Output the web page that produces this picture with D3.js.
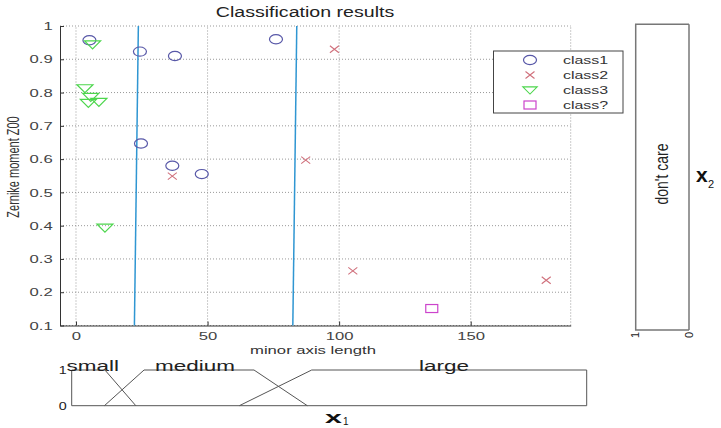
<!DOCTYPE html>
<html>
<head>
<meta charset="utf-8">
<script src="https://cdn.jsdelivr.net/npm/d3@7"></script>
<style>
  body { margin: 0; background: #fff; }
  text { font-family: "Liberation Sans", Arial, sans-serif; }
</style>
</head>
<body>
<div id="chart"></div>
<script>
// data
var class1 = [[5.1, 0.957], [24.3, 0.923], [37.6, 0.910], [76.0, 0.960], [24.7, 0.647], [36.6, 0.580], [47.8, 0.555]];
var class2 = [[98.2, 0.930], [87.3, 0.597], [36.6, 0.549], [105.2, 0.264], [178.7, 0.236]];
var class3 = [[6.3, 0.945], [3.4, 0.813], [5.6, 0.787], [4.7, 0.769], [8.7, 0.772], [11.0, 0.394]];
var classQ = [[135.2, 0.151]];
var boundaries = [[[23.7, 1], [22.2, 0.1]], [[83.9, 1], [82.4, 0.1]]];
var xTicks = [0, 50, 100, 150];
var yTicks = [0.1, 0.2, 0.3, 0.4, 0.5, 0.6, 0.7, 0.8, 0.9, 1];
var legendNames = ["class1", "class2", "class3", "class?"];

// membership functions for x1 (x1, mu) and x2 (x2, mu)
var mfSmall = [[0, 1], [12.9, 1], [24.9, 0]];
var mfMedium = [[12.7, 0], [28.1, 1], [70.8, 1], [91.5, 0]];
var mfLarge = [[65.1, 0], [93.2, 1], [200, 1], [200, 0]];
var mfLabels = [["small", 8.2], ["medium", 47.9], ["large", 144.6]];
var mfDontCare = [[0, 0], [0, 1], [1, 1], [1, 0]];

var W = 721, H = 428;
var sx = 1.45; // the picture is stretched sideways

var svg = d3.select("#chart").append("svg")
    .attr("width", W)
    .attr("height", H);

svg.append("rect").attr("width", W).attr("height", H).attr("fill", "#fff");

var x = d3.scaleLinear().domain([-6.08, 188]).range([60, 570.7]);
var y = d3.scaleLinear().domain([0.1, 1]).range([325.5, 26]);

// grid
var grid = svg.append("g").attr("stroke", "#999").attr("stroke-dasharray", "1,2");
grid.selectAll("vline")
    .data(xTicks.concat([188]))
    .enter().append("line")
        .attr("x1", function(d) { return x(d); })
        .attr("x2", function(d) { return x(d); })
        .attr("y1", y(0.1))
        .attr("y2", y(1));
grid.selectAll("hline")
    .data(yTicks)
    .enter().append("line")
        .attr("x1", x.range()[0])
        .attr("x2", x.range()[1])
        .attr("y1", function(d) { return y(d); })
        .attr("y2", function(d) { return y(d); });

// axes
var xAxis = svg.append("g")
    .attr("transform", "translate(0," + y(0.1) + ")")
    .call(d3.axisBottom(x).tickValues(xTicks).tickSizeInner(-4).tickSizeOuter(0).tickPadding(6));
var yAxis = svg.append("g")
    .attr("transform", "translate(" + x(-6.08) + ",0)")
    .call(d3.axisLeft(y).tickValues(yTicks).tickFormat(d3.format("~g")).tickSizeInner(-4).tickSizeOuter(0).tickPadding(5));

[xAxis, yAxis].forEach(function(a) {
    a.select(".domain").attr("stroke", "#333");
    a.selectAll(".tick line").attr("stroke", "#333");
    a.selectAll(".tick text")
        .attr("font-size", 11.5)
        .attr("fill", "#444")
        .attr("font-family", "Liberation Sans, Arial, sans-serif")
        .attr("transform", "scale(" + sx + ",1)");
});

// decision boundaries
var line = d3.line().x(function(d) { return x(d[0]); }).y(function(d) { return y(d[1]); });
svg.selectAll("boundary")
    .data(boundaries)
    .enter().append("path")
        .attr("d", line)
        .attr("fill", "none")
        .attr("stroke", "#2f96d2")
        .attr("stroke-width", 1.5);

// marker shapes
function drawMarker(sel, kind) {
    if (kind == 0) {
        sel.append("ellipse").attr("rx", 6.5).attr("ry", 4.6)
            .attr("fill", "none").attr("stroke", "#5858a8").attr("stroke-width", 1.2);
    } else if (kind == 1) {
        sel.append("path").attr("d", "M-4.5,-3.5L4.5,3.5M-4.5,3.5L4.5,-3.5")
            .attr("fill", "none").attr("stroke", "#d0707c").attr("stroke-width", 1.1);
    } else if (kind == 2) {
        sel.append("path").attr("d", "M-8,-3.5L8,-3.5L0,4.5Z")
            .attr("fill", "none").attr("stroke", "#4cd64c").attr("stroke-width", 1.2);
    } else {
        sel.append("rect").attr("x", -6).attr("y", -4).attr("width", 12).attr("height", 8)
            .attr("fill", "none").attr("stroke", "#cc44cc").attr("stroke-width", 1.2);
    }
}

[class1, class2, class3, classQ].forEach(function(data, k) {
    svg.selectAll("dot" + k)
        .data(data)
        .enter().append("g")
            .attr("transform", function(d) { return "translate(" + x(d[0]) + "," + y(d[1]) + ")"; })
            .each(function() { drawMarker(d3.select(this), k); });
});

// title and axis labels
svg.append("text")
    .attr("transform", "translate(305,17) scale(1.4,1)")
    .attr("text-anchor", "middle")
    .attr("font-size", 14)
    .attr("fill", "#222")
    .text("Classification results");

svg.append("text")
    .attr("transform", "translate(313,354) scale(" + sx + ",1)")
    .attr("text-anchor", "middle")
    .attr("font-size", 11.5)
    .attr("fill", "#333")
    .text("minor axis length");

svg.append("text")
    .attr("transform", "translate(19,167) scale(" + sx + ",1) rotate(-90)")
    .attr("text-anchor", "middle")
    .attr("font-size", 11)
    .attr("fill", "#333")
    .text("Zernike moment Z00");

// legend
var legend = svg.append("g").attr("transform", "translate(493.5,51)");
legend.append("rect")
    .attr("width", 129.5)
    .attr("height", 62)
    .attr("fill", "#fff")
    .attr("stroke", "#444");
var rows = legend.selectAll("legend")
    .data(legendNames)
    .enter().append("g")
        .attr("transform", function(d, i) { return "translate(0," + (9 + i * 15) + ")"; });
rows.each(function(d, i) {
    var g = d3.select(this).append("g").attr("transform", "translate(36.5,0)");
    drawMarker(g, i);
    if (i == 2) g.attr("transform", "translate(36.5,0) scale(0.9)");
});
rows.append("text")
    .attr("transform", "translate(69.5,4) scale(" + sx + ",1)")
    .attr("font-size", 11)
    .attr("fill", "#333")
    .text(function(d) { return d; });

// membership functions for x1
var mx = d3.scaleLinear().domain([0, 200]).range([71.7, 586.7]);
var my = d3.scaleLinear().domain([0, 1]).range([405.7, 370]);
var mline = d3.line().x(function(d) { return mx(d[0]); }).y(function(d) { return my(d[1]); });

var mf = svg.append("g").attr("fill", "none").attr("stroke", "#555").attr("stroke-width", 1);
mf.append("path").attr("d", mline([[0, 1], [0, 0], [200, 0]]));
[mfSmall, mfMedium, mfLarge].forEach(function(d) {
    mf.append("path").attr("d", mline(d));
});

svg.selectAll("mftick")
    .data([1, 0])
    .enter().append("text")
        .attr("transform", function(d) { return "translate(" + (mx(0) - 5) + "," + (my(d) + 4) + ") scale(1.3,1)"; })
        .attr("text-anchor", "end")
        .attr("font-size", 11)
        .attr("fill", "#222")
        .text(function(d) { return d; });

svg.selectAll("mflabel")
    .data(mfLabels)
    .enter().append("text")
        .attr("transform", function(d) { return "translate(" + mx(d[1]) + "," + (my(1) + 1) + ") scale(" + sx + ",1)"; })
        .attr("text-anchor", "middle")
        .attr("font-size", 15.5)
        .attr("fill", "#222")
        .text(function(d) { return d[0]; });

svg.append("g")
    .attr("transform", "translate(325,423) scale(1.9,1)")
    .append("text")
        .attr("font-size", 16)
        .attr("font-weight", "bold")
        .attr("fill", "#111")
        .text("x");
svg.append("text").attr("x", 343).attr("y", 425).attr("font-size", 10).attr("fill", "#111").text("1");

// membership function for x2 (rotated panel)
var nx = d3.scaleLinear().domain([0, 1]).range([689, 635.7]);
var ny = d3.scaleLinear().domain([0, 1]).range([330, 24.3]);
var nline = d3.line().x(function(d) { return nx(d[1]); }).y(function(d) { return ny(d[0]); });

var mf2 = svg.append("g").attr("fill", "none").attr("stroke", "#777").attr("stroke-width", 1.5);
mf2.append("path").attr("d", nline([[0, 0], [1, 0]]));
mf2.append("path").attr("d", nline(mfDontCare));

svg.selectAll("mf2tick")
    .data([1, 0])
    .enter().append("text")
        .attr("transform", function(d) { return "translate(" + (nx(d) + 3.5) + "," + 335 + ") rotate(-90)"; })
        .attr("text-anchor", "middle")
        .attr("font-size", 11)
        .attr("fill", "#222")
        .text(function(d) { return d; });

svg.append("text")
    .attr("transform", "translate(668,174) scale(1.3,1) rotate(-90)")
    .attr("text-anchor", "middle")
    .attr("font-size", 14)
    .attr("fill", "#222")
    .text("don't care");

svg.append("text").attr("x", 696).attr("y", 182).attr("font-size", 21).attr("font-weight", "bold").attr("fill", "#111").text("x");
svg.append("text").attr("x", 708).attr("y", 188).attr("font-size", 11).attr("fill", "#111").text("2");
</script>
</body>
</html>
